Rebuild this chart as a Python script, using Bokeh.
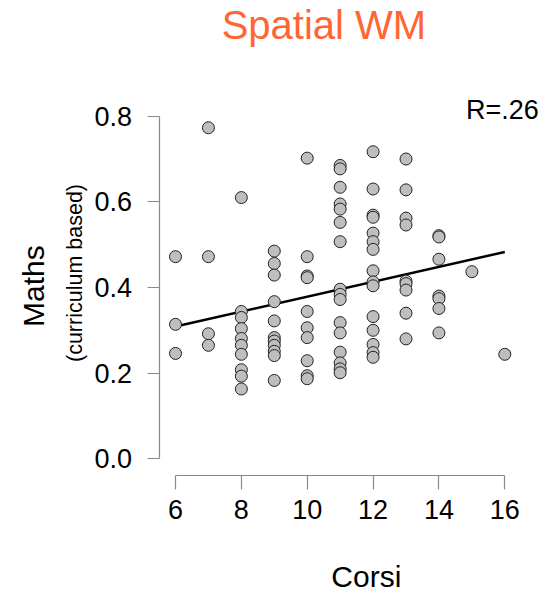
from bokeh.plotting import figure
from bokeh.models import Label, FixedTicker, PrintfTickFormatter, Range1d
from bokeh.embed import file_html
from bokeh.resources import INLINE

# ---- data ----
corsi_6 = [0.472, 0.314, 0.246]
corsi_7 = [0.773, 0.472, 0.292, 0.265]
corsi_8 = [0.610, 0.344, 0.330, 0.304, 0.281, 0.265, 0.244, 0.208, 0.193, 0.163]
corsi_9 = [0.485, 0.456, 0.429, 0.367, 0.322, 0.283, 0.275, 0.265, 0.251, 0.241, 0.183]
corsi_10 = [0.702, 0.472, 0.427, 0.423, 0.344, 0.306, 0.283, 0.229, 0.194, 0.187]
corsi_11 = [0.685, 0.677, 0.634, 0.595, 0.583, 0.552, 0.507, 0.396, 0.384, 0.372,
            0.318, 0.294, 0.249, 0.224, 0.210, 0.201]
corsi_12 = [0.717, 0.630, 0.569, 0.564, 0.527, 0.507, 0.489, 0.439, 0.413, 0.404,
            0.332, 0.300, 0.267, 0.248, 0.237]
corsi_13 = [0.700, 0.628, 0.562, 0.546, 0.415, 0.409, 0.394, 0.340, 0.280]
corsi_14 = [0.521, 0.518, 0.466, 0.380, 0.374, 0.351, 0.294]
corsi_15 = [0.437]
corsi_16 = [0.244]

groups = {6: corsi_6, 7: corsi_7, 8: corsi_8, 9: corsi_9, 10: corsi_10, 11: corsi_11,
          12: corsi_12, 13: corsi_13, 14: corsi_14, 15: corsi_15, 16: corsi_16}

fit_x = [6, 16]
fit_y = [0.309, 0.483]

x_ticks = [6, 8, 10, 12, 14, 16]
y_ticks = [0.0, 0.2, 0.4, 0.6, 0.8]

title_text = "Spatial WM"
r_text = "R=.26"
x_label = "Corsi"
y_label = "Maths"
y_sublabel = "(curriculum based)"

xs, ys = [], []
for k, vals in groups.items():
    for v in vals:
        xs.append(k)
        ys.append(v)

FONT = "Liberation Sans"

# the plotting frame covers the whole canvas; the R-style detached axes are
# placed inside it with fixed_location
p = figure(width=547, height=594, output_backend="svg", toolbar_location=None,
           title=None,
           x_range=Range1d(0.6857, 17.2968), y_range=Range1d(-0.31687, 1.07017),
           min_border=0)
p.outline_line_color = None
p.xgrid.visible = False
p.ygrid.visible = False
p.background_fill_color = "white"
p.border_fill_color = "white"

AX_COL = "#8a8a8a"
for ax, ticks in ((p.xaxis[0], x_ticks), (p.yaxis[0], y_ticks)):
    ax.ticker = FixedTicker(ticks=ticks)
    ax.axis_line_color = AX_COL
    ax.axis_line_width = 1.2
    ax.major_tick_line_color = AX_COL
    ax.major_tick_line_width = 1.2
    ax.major_tick_in = 0
    ax.minor_tick_line_color = None
    ax.major_label_text_font = FONT
    ax.major_label_text_font_size = "27px"
    ax.major_label_text_color = "black"

p.xaxis[0].bounds = (6, 16)
p.xaxis[0].fixed_location = -0.039
p.xaxis[0].major_tick_out = 14
p.xaxis[0].major_label_standoff = 10
p.yaxis[0].bounds = (0, 0.8)
p.yaxis[0].fixed_location = 5.499
p.yaxis[0].major_tick_out = 12
p.yaxis[0].major_label_standoff = 15
p.yaxis[0].formatter = PrintfTickFormatter(format="%.1f")

p.line(fit_x, fit_y, line_color="black", line_width=2.5)
p.scatter(xs, ys, size=12, fill_color="#bebebe", line_color="#222222", line_width=1)


def lab(text, x, y, size, color="black", **kw):
    p.add_layout(Label(x=x, y=y, x_units="screen", y_units="screen", text=text,
                       text_font=FONT, text_font_size=size, text_color=color,
                       text_baseline="alphabetic", **kw))

lab(title_text, 323.4, 569.5, "40px", color="#ff6633", text_align="center")
lab(r_text, 538.3, 484.7, "27px", text_align="right")
lab(x_label, 365.8, 17.6, "30px", text_align="center")
lab(y_label, 33.2, 308.3, "30px", text_align="center", angle=1.5707963)
lab(y_sublabel, 74.6, 321.5, "21.5px", text_align="center", angle=1.5707963)

open("out.html", "w").write(file_html(p, INLINE))
